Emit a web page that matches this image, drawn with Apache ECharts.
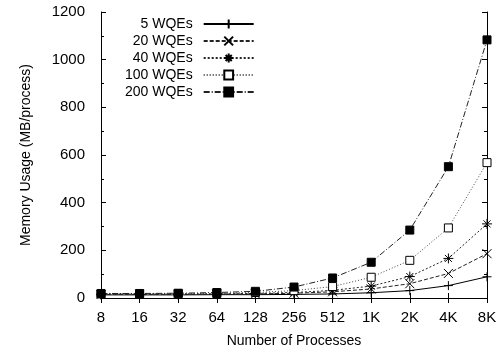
<!DOCTYPE html>
<html>
<head>
<meta charset="utf-8">
<script src="https://cdn.jsdelivr.net/npm/echarts@6/dist/echarts.min.js"></script>
<style>
html, body { margin: 0; padding: 0; background: #fff; }
#memChart { width: 502px; height: 354px; }
</style>
</head>
<body>
<div id="memChart"></div>
<script>
var categories = ['8', '16', '32', '64', '128', '256', '512', '1K', '2K', '4K', '8K'];
var wqe5 = [13, 13, 13, 14, 14, 15, 17, 22, 31, 52, 89];
var wqe20 = [15, 15, 15, 16, 17, 20, 26, 38, 60, 103, 186];
var wqe40 = [16, 16, 16, 17, 19, 23, 32, 50, 90, 166, 311];
var wqe100 = [17, 17, 18, 19, 23, 31, 48, 87, 158, 294, 568];
var wqe200 = [19, 19, 20, 23, 28, 46, 84, 150, 285, 551, 1083];
var seriesNames = ['5 WQEs', '20 WQEs', '40 WQEs', '100 WQEs', '200 WQEs'];

var FONT = '"Liberation Sans", Arial, Helvetica, sans-serif';
var memChart = echarts.init(document.getElementById('memChart'), null, {renderer: 'canvas'});

function mkSeries(name, data, symbol, size, fill, dash, lineColor) {
    return {
        name: name,
        type: 'line',
        data: data,
        symbol: symbol,
        symbolSize: size,
        showAllSymbol: true,
        animation: false,
        lineStyle: {color: lineColor, width: 1, type: dash},
        itemStyle: {color: fill, borderColor: '#000', borderWidth: 1, opacity: 1},
        emphasis: {disabled: true}
    };
}

var memOption = {
    animation: false,
    grid: {left: 101, right: 15, top: 12, bottom: 56},
    legend: {
        orient: 'vertical',
        left: 120,
        top: 12,
        align: 'right',
        itemWidth: 50,
        itemHeight: 11,
        itemGap: 3,
        data: seriesNames,
        textStyle: {fontFamily: FONT, fontSize: 14, color: '#000', width: 74, align: 'right', padding: [0, 6, 0, 0]}
    },
    xAxis: [{
        type: 'category',
        data: categories,
        boundaryGap: false,
        name: 'Number of Processes',
        nameLocation: 'middle',
        nameGap: 36,
        nameTextStyle: {fontFamily: FONT, fontSize: 14, color: '#000'},
        axisLine: {lineStyle: {color: '#000', width: 1}},
        axisTick: {inside: true, length: 5, lineStyle: {color: '#000'}},
        axisLabel: {fontFamily: FONT, fontSize: 15, color: '#000', margin: 12},
        splitLine: {show: false}
    }, {
        type: 'category',
        data: categories,
        boundaryGap: false,
        position: 'top',
        axisLine: {lineStyle: {color: '#000', width: 1}},
        axisTick: {inside: true, length: 5, lineStyle: {color: '#000'}},
        axisLabel: {show: false},
        splitLine: {show: false}
    }],
    yAxis: [{
        type: 'value',
        min: 0,
        max: 1200,
        interval: 200,
        name: 'Memory Usage (MB/process)',
        nameLocation: 'middle',
        nameGap: 68,
        nameTextStyle: {fontFamily: FONT, fontSize: 14, color: '#000'},
        axisLine: {show: true, lineStyle: {color: '#000', width: 1}},
        axisTick: {show: true, inside: true, length: 5, lineStyle: {color: '#000'}},
        minorTick: {show: true, splitNumber: 2, length: 3, lineStyle: {color: '#000'}},
        axisLabel: {fontFamily: FONT, fontSize: 15, color: '#000', margin: 16,
            formatter: function (v) { return String(v); }},
        splitLine: {show: false}
    }, {
        type: 'value',
        min: 0,
        max: 1200,
        interval: 200,
        position: 'right',
        axisLine: {show: true, lineStyle: {color: '#000', width: 1}},
        axisTick: {show: true, inside: true, length: 5, lineStyle: {color: '#000'}},
        minorTick: {show: true, splitNumber: 2, length: 3, lineStyle: {color: '#000'}},
        axisLabel: {show: false},
        splitLine: {show: false}
    }],
    series: [
        mkSeries(seriesNames[0], wqe5, 'path://M0,5L10,5M5,0L5,10', 9, '#000', 'solid', '#000'),
        mkSeries(seriesNames[1], wqe20, 'path://M0,0L10,10M10,0L0,10', 9, '#000', [4, 2], '#222'),
        mkSeries(seriesNames[2], wqe40, 'path://M0,5L10,5M5,0L5,10M1.5,1.5L8.5,8.5M8.5,1.5L1.5,8.5', 10, '#000', [2, 2], '#222'),
        mkSeries(seriesNames[3], wqe100, 'rect', 8, '#fff', [1, 2], '#444'),
        mkSeries(seriesNames[4], wqe200, 'rect', 8, '#000', [6, 2, 1, 2], '#222')
    ]
};

memChart.setOption(memOption);
</script>
</body>
</html>
